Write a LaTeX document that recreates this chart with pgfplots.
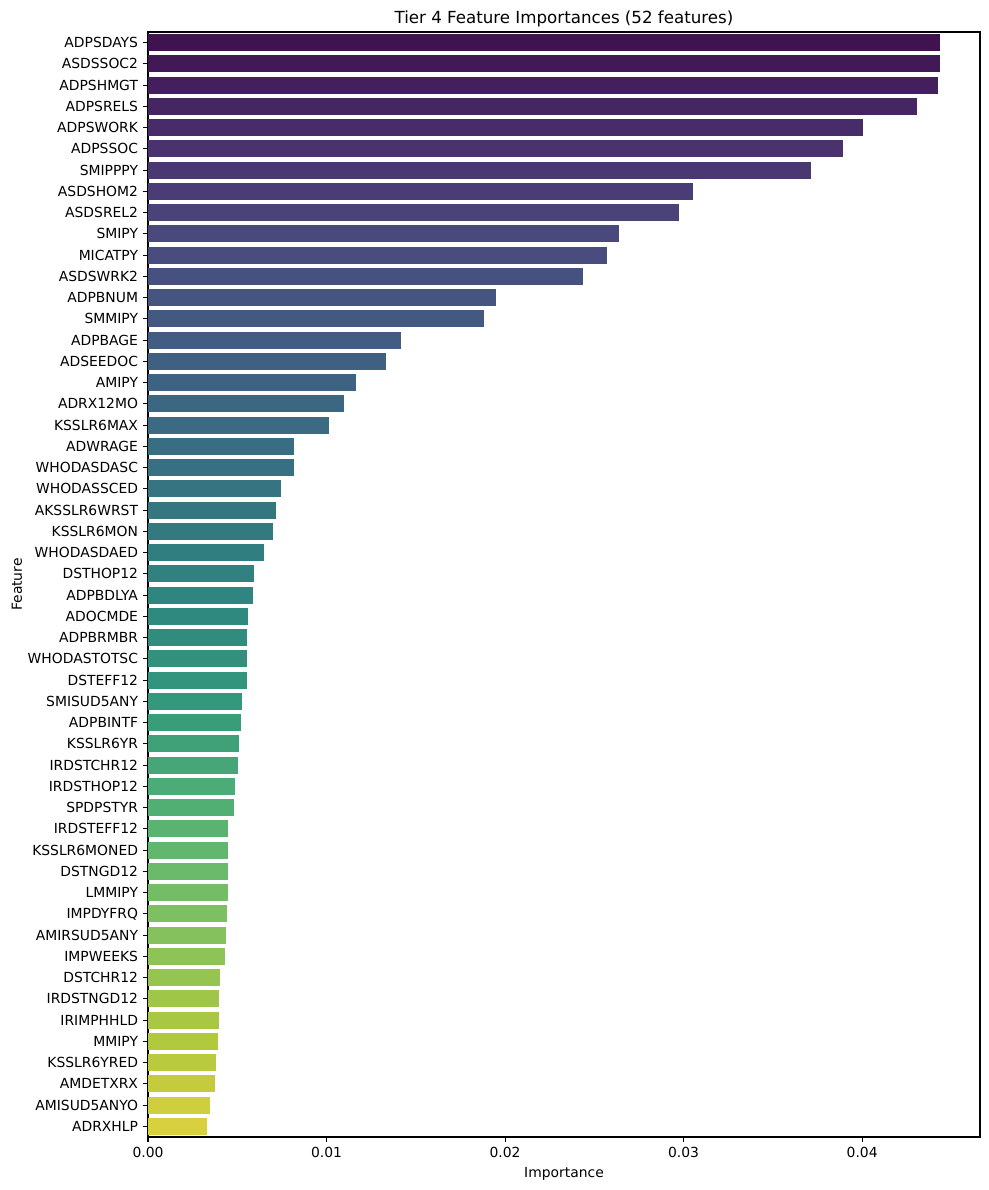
\documentclass[border=0pt]{standalone}
\usepackage{fontspec}
\setmainfont{DejaVu Sans}
\usepackage{pgfplots}
\pgfplotsset{compat=1.18}
\pgfplotsset{colormap={vir}{rgb255=(62,11,74) rgb255=(73,46,107) rgb255=(74,76,126) rgb255=(64,96,130) rgb255=(55,113,130) rgb255=(47,131,127) rgb255=(51,151,124) rgb255=(83,176,116) rgb255=(128,193,97) rgb255=(174,200,61) rgb255=(226,210,64)}}
\begin{document}
\begin{tikzpicture}
\useasboundingbox (-106.56pt,-38.16pt) rectangle (605.52pt,818.64pt);
\begin{axis}[
  at={(0pt,0pt)}, anchor=south west,
  scale only axis, width=599.04pt, height=795.6pt,
  colormap name=vir,
  xmin=0, xmax=0.0466,
  ymin=-0.5, ymax=51.5, y dir=reverse,
  ytick={0,...,51},
  yticklabels={ADPSDAYS,ASDSSOC2,ADPSHMGT,ADPSRELS,ADPSWORK,ADPSSOC,SMIPPPY,ASDSHOM2,ASDSREL2,SMIPY,MICATPY,ASDSWRK2,ADPBNUM,SMMIPY,ADPBAGE,ADSEEDOC,AMIPY,ADRX12MO,KSSLR6MAX,ADWRAGE,WHODASDASC,WHODASSCED,AKSSLR6WRST,KSSLR6MON,WHODASDAED,DSTHOP12,ADPBDLYA,ADOCMDE,ADPBRMBR,WHODASTOTSC,DSTEFF12,SMISUD5ANY,ADPBINTF,KSSLR6YR,IRDSTCHR12,IRDSTHOP12,SPDPSTYR,IRDSTEFF12,KSSLR6MONED,DSTNGD12,LMMIPY,IMPDYFRQ,AMIRSUD5ANY,IMPWEEKS,DSTCHR12,IRDSTNGD12,IRIMPHHLD,MMIPY,KSSLR6YRED,AMDETXRX,AMISUD5ANYO,ADRXHLP},
  xtick={0,0.01,0.02,0.03,0.04},
  xticklabels={0.00,0.01,0.02,0.03,0.04},
  scaled x ticks=false,
  tick align=outside, major tick length=3.5pt,
  tick style={line width=0.8pt, black},
  axis line style={line width=0.8pt},
  xtick pos=bottom, ytick pos=left,
  tick label style={font=\fontsize{10}{12}\selectfont, inner sep=0pt},
  xticklabel shift=3.5pt, yticklabel shift=3.5pt,
  /pgf/number format/assume math mode=true,
  xlabel={Importance}, ylabel={Feature},
  label style={font=\fontsize{10}{12}\selectfont},
  xlabel style={at={(0.5,0)}, anchor=north, yshift=-21.7pt, inner sep=0pt},
  ylabel style={at={(-0.1575,0.5)}, anchor=center, inner sep=0pt},
  title={Tier 4 Feature Importances (52 features)},
  title style={font=\fontsize{12}{14}\selectfont, at={(0.5,1)}, anchor=base, yshift=0.24pt, inner sep=0pt},
  mybar/.style={xbar, bar width=0.8, bar shift=0pt, draw=none, color of colormap={#1 of vir}, fill},
]
\addplot[mybar=18.87] coordinates {(0.04437,0)};
\addplot[mybar=37.74] coordinates {(0.04437,1)};
\addplot[mybar=56.60] coordinates {(0.04426,2)};
\addplot[mybar=75.47] coordinates {(0.04308,3)};
\addplot[mybar=94.34] coordinates {(0.04006,4)};
\addplot[mybar=113.21] coordinates {(0.03894,5)};
\addplot[mybar=132.08] coordinates {(0.03714,6)};
\addplot[mybar=150.94] coordinates {(0.03053,7)};
\addplot[mybar=169.81] coordinates {(0.02975,8)};
\addplot[mybar=188.68] coordinates {(0.02639,9)};
\addplot[mybar=207.55] coordinates {(0.02571,10)};
\addplot[mybar=226.42] coordinates {(0.02437,11)};
\addplot[mybar=245.28] coordinates {(0.01950,12)};
\addplot[mybar=264.15] coordinates {(0.01882,13)};
\addplot[mybar=283.02] coordinates {(0.01417,14)};
\addplot[mybar=301.89] coordinates {(0.01333,15)};
\addplot[mybar=320.75] coordinates {(0.01165,16)};
\addplot[mybar=339.62] coordinates {(0.01098,17)};
\addplot[mybar=358.49] coordinates {(0.01014,18)};
\addplot[mybar=377.36] coordinates {(0.00818,19)};
\addplot[mybar=396.23] coordinates {(0.00818,20)};
\addplot[mybar=415.09] coordinates {(0.00745,21)};
\addplot[mybar=433.96] coordinates {(0.00717,22)};
\addplot[mybar=452.83] coordinates {(0.00700,23)};
\addplot[mybar=471.70] coordinates {(0.00650,24)};
\addplot[mybar=490.57] coordinates {(0.00594,25)};
\addplot[mybar=509.43] coordinates {(0.00588,26)};
\addplot[mybar=528.30] coordinates {(0.00560,27)};
\addplot[mybar=547.17] coordinates {(0.00555,28)};
\addplot[mybar=566.04] coordinates {(0.00555,29)};
\addplot[mybar=584.91] coordinates {(0.00555,30)};
\addplot[mybar=603.77] coordinates {(0.00527,31)};
\addplot[mybar=622.64] coordinates {(0.00521,32)};
\addplot[mybar=641.51] coordinates {(0.00510,33)};
\addplot[mybar=660.38] coordinates {(0.00504,34)};
\addplot[mybar=679.25] coordinates {(0.00487,35)};
\addplot[mybar=698.11] coordinates {(0.00482,36)};
\addplot[mybar=716.98] coordinates {(0.00448,37)};
\addplot[mybar=735.85] coordinates {(0.00448,38)};
\addplot[mybar=754.72] coordinates {(0.00448,39)};
\addplot[mybar=773.58] coordinates {(0.00448,40)};
\addplot[mybar=792.45] coordinates {(0.00443,41)};
\addplot[mybar=811.32] coordinates {(0.00437,42)};
\addplot[mybar=830.19] coordinates {(0.00431,43)};
\addplot[mybar=849.06] coordinates {(0.00403,44)};
\addplot[mybar=867.92] coordinates {(0.00398,45)};
\addplot[mybar=886.79] coordinates {(0.00398,46)};
\addplot[mybar=905.66] coordinates {(0.00392,47)};
\addplot[mybar=924.53] coordinates {(0.00381,48)};
\addplot[mybar=943.40] coordinates {(0.00375,49)};
\addplot[mybar=962.26] coordinates {(0.00347,50)};
\addplot[mybar=981.13] coordinates {(0.00331,51)};
\end{axis}
\end{tikzpicture}
\end{document}
